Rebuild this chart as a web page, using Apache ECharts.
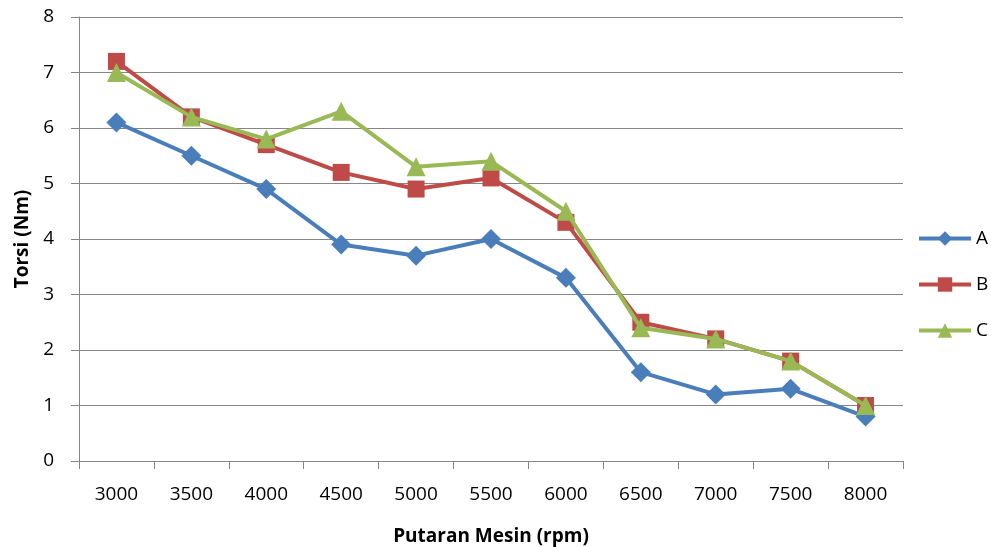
<!DOCTYPE html>
<html>
<head>
<meta charset="utf-8">
<script src="https://cdn.jsdelivr.net/npm/echarts@6/dist/echarts.min.js"></script>
<style>
  html, body { margin: 0; padding: 0; background: #fff; }
  #chart { width: 991px; height: 547px; }
</style>
</head>
<body>
<div id="chart"></div>
<script>
const rpm = ['3000', '3500', '4000', '4500', '5000', '5500', '6000', '6500', '7000', '7500', '8000']
const seriesA = [6.1, 5.5, 4.9, 3.9, 3.7, 4.0, 3.3, 1.6, 1.2, 1.3, 0.8]
const seriesB = [7.2, 6.2, 5.7, 5.2, 4.9, 5.1, 4.3, 2.5, 2.2, 1.8, 1.0]
const seriesC = [7.0, 6.2, 5.8, 6.3, 5.3, 5.4, 4.5, 2.4, 2.2, 1.8, 1.0]

const font = '"Open Sans", sans-serif'

function line(name, data, color, symbol, size) {
  return {
    name: name,
    type: 'line',
    data: data,
    symbol: symbol,
    symbolSize: size,
    lineStyle: { width: 4, color: color },
    itemStyle: { color: color },
    emphasis: { disabled: true },
    z: name === 'C' ? 4 : name === 'B' ? 3 : 2,
  }
}

const chart = echarts.init(document.getElementById('chart'))
chart.setOption({
  animation: false,
  grid: { left: 79, right: 88, top: 17, bottom: 86, outerBoundsMode: 'none', containLabel: false },
  legend: {
    orient: 'vertical',
    left: 912,
    top: 224,
    itemWidth: 52,
    itemHeight: 18,
    itemGap: 27,
    lineStyle: { width: 4 },
    textStyle: { fontFamily: font, fontSize: 19, color: '#000' },
    data: ['A', 'B', 'C'],
  },
  xAxis: {
    type: 'category',
    data: rpm,
    boundaryGap: true,
    name: 'Putaran Mesin (rpm)',
    nameLocation: 'middle',
    nameGap: 66,
    nameTextStyle: { fontFamily: font, fontSize: 19, fontWeight: 'bold', color: '#000' },
    axisLine: { lineStyle: { color: '#868686', width: 1 } },
    axisTick: { show: true, length: 8, alignWithLabel: false, lineStyle: { color: '#868686' } },
    axisLabel: { fontFamily: font, fontSize: 19, color: '#000', margin: 24 },
    splitLine: { show: false },
  },
  yAxis: {
    type: 'value',
    min: 0,
    max: 8,
    interval: 1,
    name: 'Torsi (Nm)',
    nameLocation: 'middle',
    nameGap: 45,
    nameRotate: 90,
    nameTextStyle: { fontFamily: font, fontSize: 19, fontWeight: 'bold', color: '#000' },
    axisLine: { show: true, lineStyle: { color: '#868686', width: 1 } },
    axisTick: { show: true, length: 8, lineStyle: { color: '#868686' } },
    axisLabel: { fontFamily: font, fontSize: 19, color: '#000', margin: 25 },
    splitLine: { show: true, lineStyle: { color: '#868686', width: 1 } },
  },
  series: [
    line('A', seriesA, '#4a7ebb', 'diamond', 20),
    line('B', seriesB, '#be4b48', 'rect', 17),
    line('C', seriesC, '#98b954', 'triangle', 19),
  ],
})
</script>
</body>
</html>
